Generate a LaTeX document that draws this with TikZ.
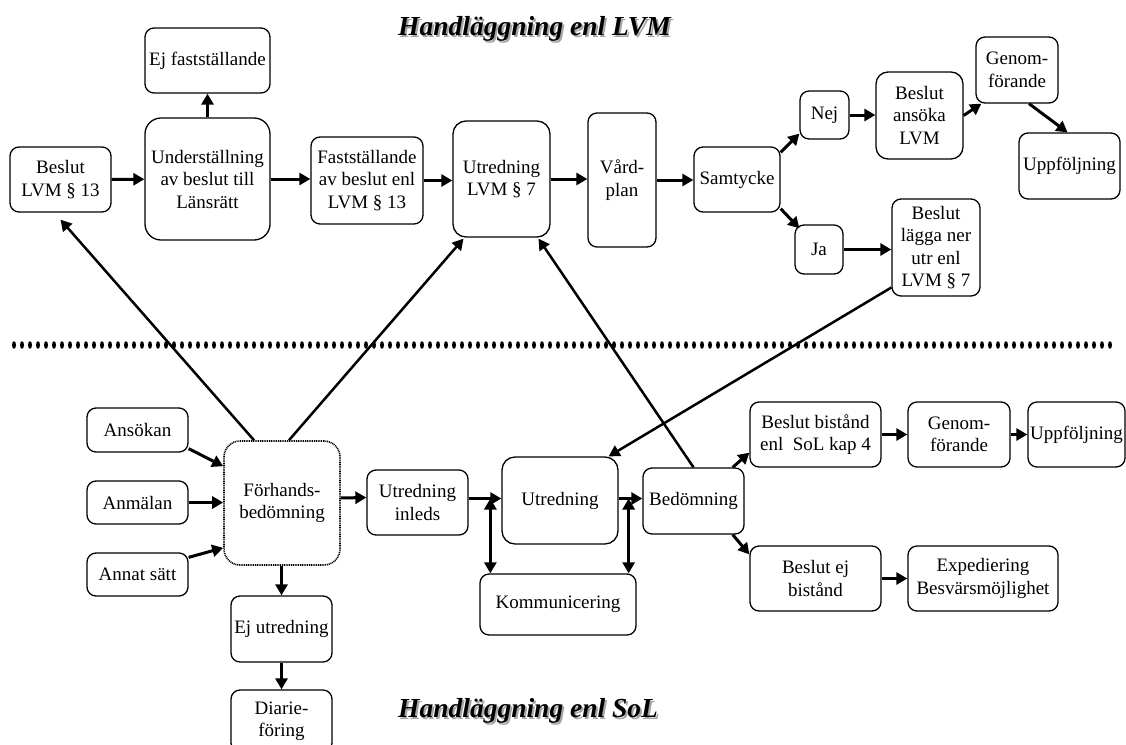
\documentclass[tikz,border=0pt]{standalone}
\usepackage{fontspec}
\setmainfont{Liberation Serif}
\usetikzlibrary{arrows.meta}

\begin{document}
\begin{tikzpicture}[x=1pt,y=-1pt,
  box/.style={draw, rounded corners=9pt, line width=1.3pt, align=center, inner sep=1pt,
    font=\fontsize{19}{22.5}\selectfont},
  arr/.style={line width=3pt, -{Triangle[length=11pt,width=12pt]}},
  lng/.style={line width=2.5pt, -{Triangle[length=11pt,width=12pt]}},
  dbl/.style={line width=3pt, {Triangle[length=11pt,width=12pt]}-{Triangle[length=11pt,width=12pt]}},
  title/.style={font=\fontsize{27.5}{30}\selectfont\bfseries\itshape, anchor=base west, inner sep=0pt}]
\useasboundingbox (0,0) rectangle (1126,744);
\clip (0,0) rectangle (1126,744);

% Titles with shadow
\node[title, text=black!35] at (400,37) {Handläggning enl LVM};
\node[title] (tLVM) at (398,35) {Handläggning enl LVM};
\node[title, text=black!35] at (400,719) {Handläggning enl SoL};
\node[title] (tSoL) at (398,717) {Handläggning enl SoL};

% Dotted separator
\foreach \i in {0,...,137}
  \fill (14+8*\i,345) ellipse (2 and 3.8);

% LVM boxes
\node[box, minimum width=125, minimum height=65] (ejfast) at (207.5,60.5) {Ej fastställande};
\node[box, minimum width=101, minimum height=65] (beslut13) at (60.5,179.5) {Beslut\\LVM § 13};
\node[box, rounded corners=16pt, minimum width=125, minimum height=122] (underst) at (207.5,179) {Underställning\\av beslut till\\Länsrätt};
\node[box, minimum width=112, minimum height=87] (faststall) at (367,180.5) {Fastställande\\av beslut enl\\LVM § 13};
\node[box, rounded corners=13pt, minimum width=97, minimum height=116] (utrLVM) at (501.5,179) {Utredning\\LVM § 7};
\node[box, minimum width=68, minimum height=134] (vardplan) at (622,180) {Vård-\\plan};
\node[box, minimum width=86, minimum height=65] (samtycke) at (737,179.5) {Samtycke};
\node[box, minimum width=49, minimum height=48] (nej) at (824.5,115) {Nej};
\node[box, minimum width=48, minimum height=49] (ja) at (819,249.5) {Ja};
\node[box, rounded corners=12pt, minimum width=87, minimum height=87] (ansoka) at (919.5,115.5) {Beslut\\ansöka\\LVM};
\node[box, minimum width=82, minimum height=66] (genomT) at (1017,70) {Genom-\\förande};
\node[box, minimum width=101, minimum height=66] (uppfT) at (1069.5,166) {Uppföljning};
\node[box, minimum width=88, minimum height=97] (lagga) at (936,247.5) {Beslut\\lägga ner\\utr enl\\LVM § 7};

% SoL boxes
\node[box, minimum width=101, minimum height=44] (ansokan) at (137.5,430) {Ansökan};
\node[box, minimum width=101, minimum height=43] (anmalan) at (137.5,502.5) {Anmälan};
\node[box, minimum width=101, minimum height=43] (annat) at (137.5,574.5) {Annat sätt};
\node[box, rounded corners=16pt, line width=1.6pt, dash pattern=on 1pt off 0.8pt,
  minimum width=116, minimum height=124] (forhands) at (282,503) {Förhands-\\bedömning};
\node[box, minimum width=101, minimum height=65] (inleds) at (417.5,502.5) {Utredning\\inleds};
\node[box, minimum width=101, minimum height=66] (ejutr) at (281.5,629) {Ej utredning};
\node[box, minimum width=101, minimum height=62] (diarie) at (281.5,721) {Diarie-\\föring};
\node[box, rounded corners=13pt, minimum width=116, minimum height=87] (utrSoL) at (560,500.5) {Utredning};
\node[box, minimum width=156, minimum height=61] (komm) at (558,604.5) {Kommunicering};
\node[box, minimum width=101, minimum height=66] (bedom) at (693.5,501) {Bedömning};
\node[box, minimum width=131, minimum height=65] (bistand) at (815.5,434.5) {Beslut bistånd\\enl\ \ SoL kap 4};
\node[box, minimum width=102, minimum height=65] (genomB) at (959,434.5) {Genom-\\förande};
\node[box, minimum width=97, minimum height=65] (uppfB) at (1076.5,434.5) {Uppföljning};
\node[box, minimum width=131, minimum height=65] (ejbist) at (815.5,578.5) {Beslut ej\\bistånd};
\node[box, minimum width=150, minimum height=65] (exped) at (983,578.5) {Expediering\\Besvärsmöjlighet};

% LVM arrows
\draw[arr] (beslut13) -- (underst);
\draw[arr] (underst) -- (underst -| faststall.west);
\draw[arr] (faststall) -- (faststall -| utrLVM.west);
\draw[arr] (utrLVM) -- (utrLVM -| vardplan.west);
\draw[arr] (vardplan) -- (vardplan -| samtycke.west);
\draw[arr] (underst.north) -- (ejfast.south);
\draw[arr] ([yshift=-6pt]samtycke.north east) -- ([yshift=6pt]nej.south west);
\draw[arr] ([yshift=4pt]samtycke.south east) -- ([xshift=5pt,yshift=-4pt]ja.north west);
\draw[arr] (nej.east) -- (nej.east -| ansoka.west);
\draw[arr] (ansoka.east) -- ([xshift=6pt]genomT.south west);
\draw[arr] ([xshift=12pt]genomT.south) -- ([xshift=-2pt]uppfT.north);
\draw[arr] (ja.east) -- (ja.east -| lagga.west);

% Links across the line
\draw[lng] ([xshift=-28pt]forhands.north) -- ([yshift=-7pt]beslut13.south);
\draw[lng] ([xshift=7pt]forhands.north) -- ([xshift=-38pt,yshift=-1pt]utrLVM.south);
\draw[lng] (bedom.north) -- ([xshift=37pt,yshift=-1pt]utrLVM.south);
\draw[lng] ([yshift=-40pt]lagga.west) -- ([xshift=-10pt]utrSoL.north east);

% SoL arrows
\draw[arr] ([yshift=4pt]ansokan.south east) -- ([yshift=-26pt]forhands.north west);
\draw[arr] (anmalan) -- (anmalan -| forhands.west);
\draw[arr] ([yshift=-5pt]annat.north east) -- ([yshift=18pt]forhands.south west);
\draw[arr] (ejutr.north |- forhands.south) -- (ejutr.north);
\draw[arr] (ejutr) -- (diarie);
\draw[arr] ([yshift=5pt]forhands.east) -- ([yshift=5pt]inleds.west);
\draw[arr] ([yshift=4pt]inleds.east) -- ([yshift=4pt]inleds.east -| utrSoL.west);
\draw[arr] ([yshift=2pt]utrSoL.east) -- ([yshift=2pt]utrSoL.east -| bedom.west);
\coordinate (k1) at ([xshift=-11pt,yshift=2pt]utrSoL.west);
\coordinate (k2) at ([xshift=10pt,yshift=2pt]utrSoL.east);
\draw[dbl] (k1) -- (k1 |- komm.north);
\draw[dbl] (k2) -- (k2 |- komm.north);
\draw[arr] ([xshift=-12pt]bedom.north east) -- ([yshift=15pt]bistand.south west);
\draw[arr] ([xshift=-12pt]bedom.south east) -- ([yshift=-9pt]ejbist.north west);
\draw[arr] (bistand) -- (genomB);
\draw[arr] (genomB) -- (uppfB);
\draw[arr] (ejbist) -- (exped);

\end{tikzpicture}
\end{document}
